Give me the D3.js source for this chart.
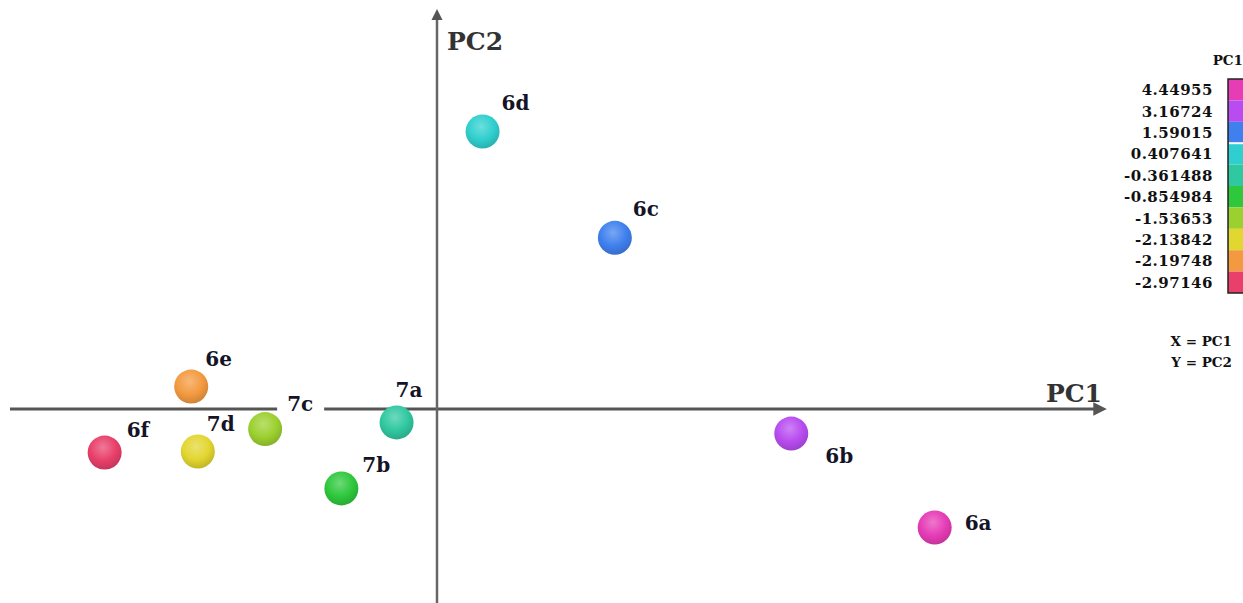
<!DOCTYPE html>
<html>
<head>
<meta charset="utf-8">
<script src="https://cdn.jsdelivr.net/npm/d3@7"></script>
<style>
  body { margin: 0; background: #fff; }
  svg text { font-family: "DejaVu Serif", serif; font-weight: bold; }
</style>
</head>
<body>
<div id="chart"></div>
<script>
const width = 1243, height = 603;

// samples and their scores
const names = ["6a", "6b", "6c", "6d", "7a", "7b", "7c", "7d", "6e", "6f"];
const pc1 = [4.44955, 3.16724, 1.59015, 0.407641, -0.361488, -0.854984, -1.53653, -2.13842, -2.19748, -2.97146];
const pc2 = [-1.06, -0.22, 1.53, 2.48, -0.12, -0.71, -0.18, -0.38, 0.20, -0.39];
const colors = ["#e63cb6", "#b84cf0", "#3f80ee", "#30cfcf", "#30c8a0", "#2fc83c", "#9cd030", "#e2d630", "#f39a40", "#e8406a"];

// legend
const legendValues = ["4.44955", "3.16724", "1.59015", "0.407641", "-0.361488", "-0.854984", "-1.53653", "-2.13842", "-2.19748", "-2.97146"];

const svg = d3.select("#chart")
    .append("svg")
    .attr("width", width)
    .attr("height", height);

const defs = svg.append("defs");

let x = d3.scaleLinear()
    .domain([-3.8176, 5.9276])
    .range([10, 1100]);

let y = d3.scaleLinear()
    .domain([-1.7345, 3.549])
    .range([603, 12]);

// arrow heads
defs.append("marker")
    .attr("id", "arrow")
    .attr("viewBox", "0 0 10 10")
    .attr("refX", 2)
    .attr("refY", 5)
    .attr("markerWidth", 4.5)
    .attr("markerHeight", 4.5)
    .attr("orient", "auto")
    .append("path")
    .attr("d", "M0,0 L10,5 L0,10 z")
    .attr("fill", "#555");

// axes
svg.append("line")
    .attr("x1", x.range()[0]).attr("x2", x.range()[1] - 4)
    .attr("y1", y(0)).attr("y2", y(0))
    .attr("stroke", "#555")
    .attr("stroke-width", 3)
    .attr("marker-end", "url(#arrow)");

svg.append("line")
    .attr("x1", x(0)).attr("x2", x(0))
    .attr("y1", y.range()[0]).attr("y2", y.range()[1] + 6)
    .attr("stroke", "#666")
    .attr("stroke-width", 2.5)
    .attr("marker-end", "url(#arrow)");

svg.append("text")
    .attr("x", x(0) + 10)
    .attr("y", 50)
    .attr("font-size", 25)
    .attr("fill", "#333")
    .text("PC2");

svg.append("text")
    .attr("x", x.range()[1] + 2)
    .attr("y", y(0) - 7)
    .attr("text-anchor", "end")
    .attr("font-size", 25)
    .attr("fill", "#333")
    .text("PC1");

// sphere gradients
colors.forEach((c, i) => {
    let g = defs.append("radialGradient")
        .attr("id", "ball" + i)
        .attr("cx", "45%").attr("cy", "35%").attr("r", "65%");
    g.append("stop").attr("offset", "0%").attr("stop-color", d3.interpolateRgb(c, "#fff")(0.3));
    g.append("stop").attr("offset", "60%").attr("stop-color", c);
    g.append("stop").attr("offset", "100%").attr("stop-color", d3.interpolateRgb(c, "#000")(0.15));
});

const data = names.map((n, i) => ({ name: n, x: pc1[i], y: pc2[i], i: i }));

svg.selectAll("circle.pt")
    .data(data)
    .join("circle")
    .attr("class", "pt")
    .attr("cx", d => x(d.x))
    .attr("cy", d => y(d.y))
    .attr("r", 17)
    .attr("fill", d => `url(#ball${d.i})`);

// label offsets from the point centre
const labelOffset = {
    "6a": [30, 2], "6b": [34, 29], "6c": [18, -22], "6d": [19, -22], "7a": [-1, -25],
    "7b": [21, -16], "7c": [22, -18], "7d": [9, -20], "6e": [14, -21], "6f": [22, -16]
};

const labels = svg.selectAll("g.lab")
    .data(data)
    .join("g")
    .attr("class", "lab")
    .attr("transform", d => `translate(${x(d.x) + labelOffset[d.name][0]},${y(d.y) + labelOffset[d.name][1]})`);

// 7c sits on a white box that breaks the PC1 axis
labels.filter(d => d.name === "7c")
    .append("rect")
    .attr("x", -10).attr("y", -20)
    .attr("width", 47).attr("height", 26)
    .attr("fill", "#fff");

labels.append("text")
    .attr("font-size", 20)
    .attr("fill", "#141428")
    .text(d => d.name);

// colour legend
const legendTop = 79, rowH = 21.4, barX = 1228;
let ly = d3.scaleBand()
    .domain(legendValues)
    .range([legendTop, legendTop + rowH * legendValues.length]);

svg.append("text")
    .attr("x", 1243)
    .attr("y", 65)
    .attr("text-anchor", "end")
    .attr("font-size", 13.5)
    .attr("fill", "#111")
    .text("PC1");

svg.selectAll("rect.leg")
    .data(legendValues)
    .join("rect")
    .attr("class", "leg")
    .attr("x", barX)
    .attr("y", d => ly(d))
    .attr("width", 20)
    .attr("height", ly.bandwidth())
    .attr("fill", (d, i) => colors[i]);

svg.append("line")
    .attr("x1", barX + 1).attr("x2", 1243)
    .attr("y1", ly(legendValues[3])).attr("y2", ly(legendValues[3]))
    .attr("stroke", "#fff").attr("stroke-width", 2);

svg.append("path")
    .attr("d", `M1243,${legendTop}H${barX}V${legendTop + rowH * legendValues.length}H1243`)
    .attr("fill", "none")
    .attr("stroke", "#222")
    .attr("stroke-width", 1.5);

svg.selectAll("text.legval")
    .data(legendValues)
    .join("text")
    .attr("class", "legval")
    .attr("x", 1213)
    .attr("y", d => ly(d) + ly.bandwidth() / 2 + 5.5)
    .attr("text-anchor", "end")
    .attr("font-size", 15)
    .attr("letter-spacing", 0.5)
    .attr("fill", "#111")
    .text(d => d);

svg.append("text")
    .attr("x", 1232).attr("y", 346)
    .attr("text-anchor", "end")
    .attr("font-size", 13.5)
    .attr("fill", "#111")
    .text("X = PC1");

svg.append("text")
    .attr("x", 1232).attr("y", 367)
    .attr("text-anchor", "end")
    .attr("font-size", 13.5)
    .attr("fill", "#111")
    .text("Y = PC2");
</script>
</body>
</html>
